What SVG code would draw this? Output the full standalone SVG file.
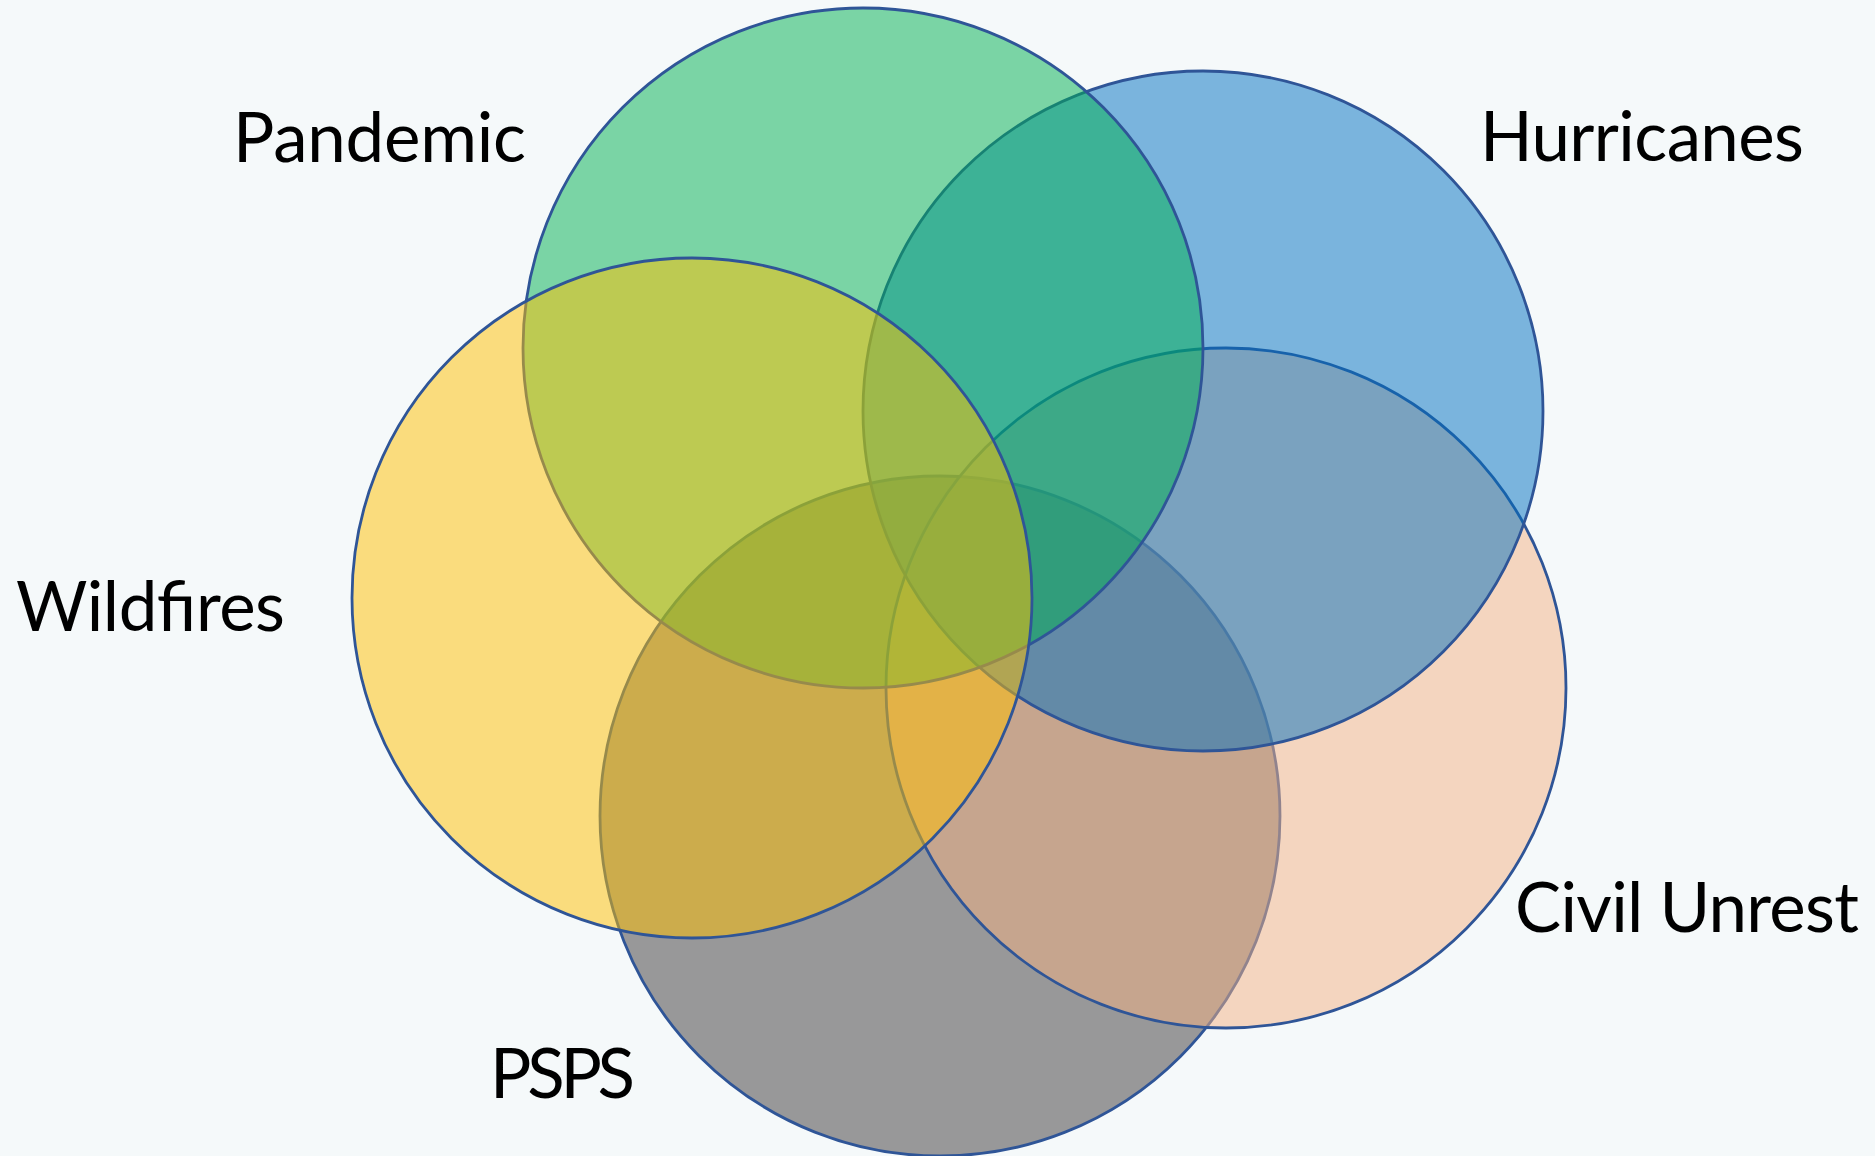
<svg xmlns="http://www.w3.org/2000/svg" width="1875" height="1156" viewBox="0 0 1875 1156">
<style>
.c{stroke:#2f5597;stroke-width:2.8;fill-opacity:0.5}
.t{font-family:Lato,"Open Sans","Liberation Sans",sans-serif;font-size:69px;fill:#000}
</style>
<rect x="0" y="0" width="1875" height="1156" fill="#f5f9fa"/>
<g id="psps"><circle class="c" cx="940" cy="816" r="340" fill="#3b3838"/></g>
<g id="civil-unrest"><circle class="c" cx="1226" cy="688" r="340" fill="#f4b183"/></g>
<g id="hurricanes"><circle class="c" cx="1203" cy="411" r="340" fill="#0070c0"/></g>
<g id="pandemic"><circle class="c" cx="863" cy="348" r="340" fill="#00b050"/></g>
<g id="wildfires"><circle class="c" cx="692" cy="598" r="340" fill="#ffc000"/></g>
<g id="labels">
<text class="t" x="233" y="162" textLength="293">Pandemic</text>
<text class="t" x="1480" y="161" textLength="324">Hurricanes</text>
<text class="t" x="16" y="631" textLength="269">Wildfires</text>
<text class="t" x="1515" y="932" textLength="344">Civil Unrest</text>
<text class="t" x="490" y="1098" textLength="145">PSPS</text>
</g>
<g id="connectors"/>
</svg>
